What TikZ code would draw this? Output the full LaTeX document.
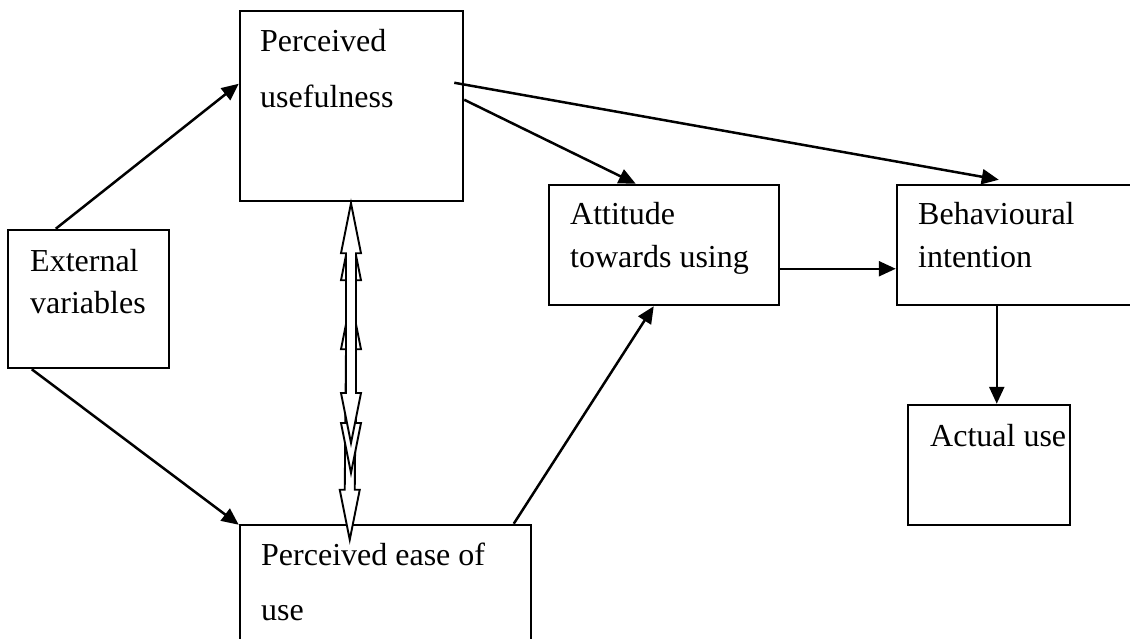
\documentclass[tikz,border=0pt]{standalone}
\usepackage{fontspec}
\setmainfont{Liberation Serif}
\usetikzlibrary{arrows.meta,calc}
\tikzset{
  box/.style={draw, rectangle, line width=2.5pt, inner sep=0pt},
  lbl/.style={anchor=base west, inner sep=0pt},
  conn/.style={line width=2.5pt, -{Triangle[length=17pt,width=15pt]}},
  hollow/.style={draw, fill=white, line width=1.9pt, line join=miter}
}
\newcommand\hollowdbl[2]{%
  \path[hollow] (#1) -- ($(#1)+(10,50)$) -- ($(#1)+(5,50)$) -- ($(#2)+(5,-50)$)
    -- ($(#2)+(10,-50)$) -- (#2) -- ($(#2)+(-10,-50)$) -- ($(#2)+(-5,-50)$)
    -- ($(#1)+(-5,50)$) -- ($(#1)+(-10,50)$) -- cycle;}
\begin{document}
\begin{tikzpicture}[x=1pt, y=-1pt, font=\fontsize{32}{38}\selectfont]
\useasboundingbox (0,0) rectangle (1130,639);
\fill[white] (0,0) rectangle (1130,639);
\clip (0,0) rectangle (1130,639);
% boxes
\node[box, minimum width=161pt, minimum height=138pt] (ext) at (88.5,299) {};
\node[box, minimum width=223pt, minimum height=190pt] (pu) at (351.5,106) {};
\node[box, minimum width=291pt, minimum height=150pt] (peu) at (385.5,600) {};
\node[box, minimum width=230pt, minimum height=120pt] (att) at (664,245) {};
\node[box, minimum width=250pt, minimum height=120pt] (bi) at (1022,245) {};
\node[box, minimum width=162pt, minimum height=120pt] (au) at (989,465) {};
% labels
\node[lbl] (extA) at (30,271) {External};
\node[lbl] (extB) at (30,313) {variables};
\node[lbl] (puA) at (260,52) {Perceived};
\node[lbl] (puB) at (260,108) {usefulness};
\node[lbl] (peuA) at (261,565) {Perceived ease of};
\node[lbl] (peuB) at (261,620) {use};
\node[lbl] (attA) at (570,225) {Attitude};
\node[lbl] (attB) at (570,267) {towards using};
\node[lbl] (biA) at (918,225) {Behavioural};
\node[lbl] (biB) at (918,267) {intention};
\node[lbl] (auA) at (930,446) {Actual use};
% connectors
\draw[conn] ($(ext.north west)+(49,0)$) -- ($(pu.north west)+(0,74)$);
\draw[conn] ($(ext.south west)+(25,0)$) -- ($(peu.north west)+(0,1)$);
\draw[conn] ($(pu.north east)+(0,90)$) -- ($(att.north west)+(88,0)$);
\draw[conn] ($(pu.north east)+(-10,73)$) -- ($(bi.north west)+(103,-4)$);
\draw[conn] ($(peu.north west)+(275,0)$) -- ($(att.south west)+(106,0)$);
\draw[conn] ($(att.north east)+(0,85)$) -- ($(bi.north west)+(0,85)$);
\draw[conn] ($(bi.south west)+(101,0)$) -- ($(au.north west)+(90,0)$);
% hollow double arrows between pu and peu
\coordinate (tA) at ($(pu.south)+(-0.5,1)$);
\coordinate (tB) at ($(pu.south)+(-0.5,28)$);
\coordinate (tC) at ($(pu.south)+(-0.5,97)$);
\coordinate (bA) at (351,443);
\coordinate (bB) at (351,473);
\coordinate (bC) at ($(peu.north west)+(111,16)$);
\hollowdbl{tC}{bC}
\hollowdbl{tB}{bB}
\hollowdbl{tA}{bA}
\end{tikzpicture}
\end{document}
